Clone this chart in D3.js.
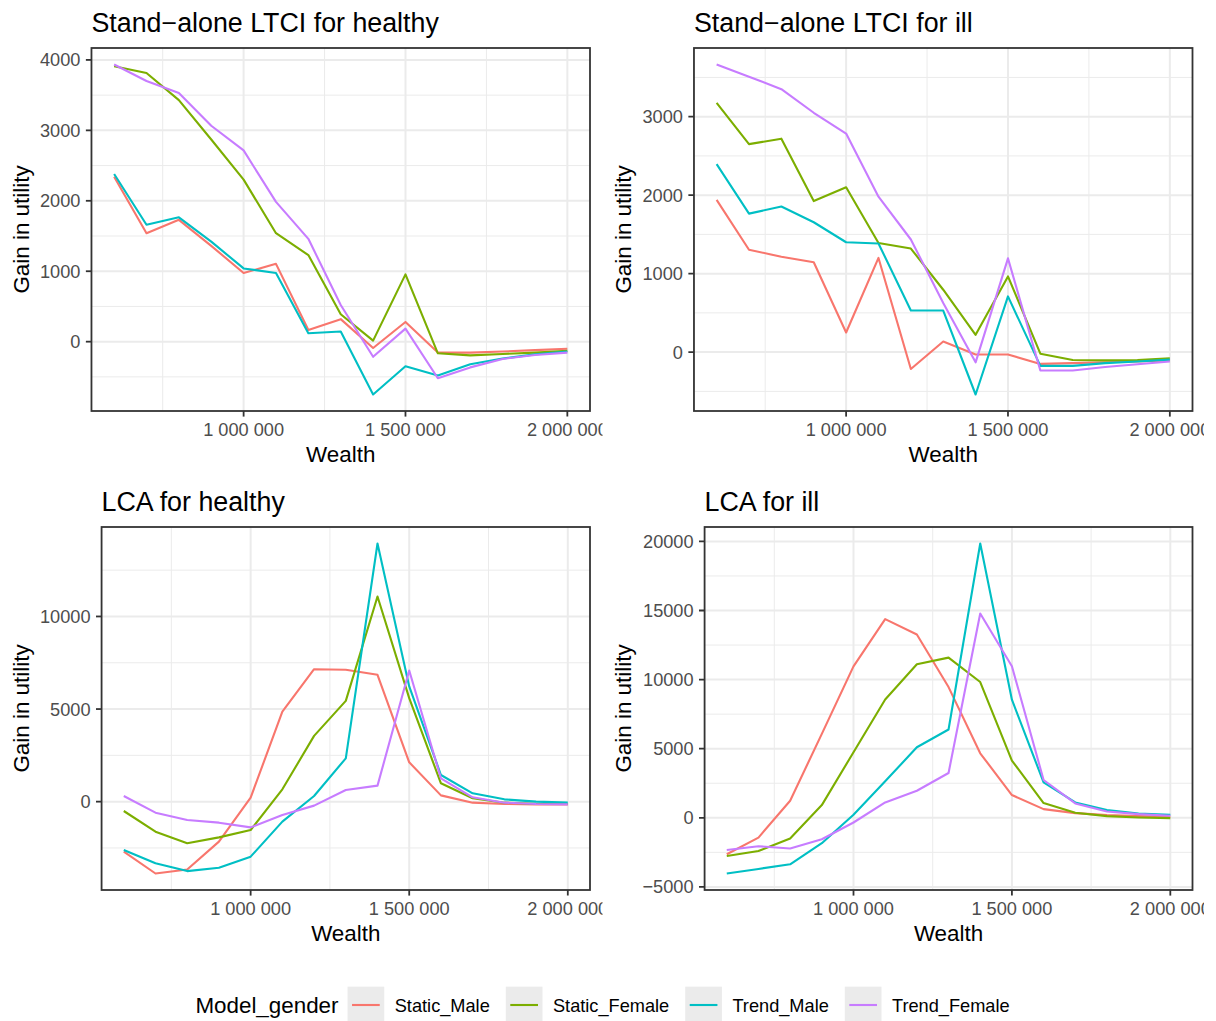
<!DOCTYPE html>
<meta charset="utf-8">
<script src="https://d3js.org/d3.v7.min.js"></script>
<style>
  body { margin: 0; background: #fff; }
  text { font-family: "Liberation Sans", Arial, Helvetica, sans-serif; }
</style>
<div id="chart"></div>
<script>
// x values (wealth) and series
const wealth = [600000, 700000, 800000, 900000, 1000000, 1100000, 1200000, 1300000,
                1400000, 1500000, 1600000, 1700000, 1800000, 1900000, 2000000];
const xTicks = [1000000, 1500000, 2000000];
const seriesNames = ["Static_Male", "Static_Female", "Trend_Male", "Trend_Female"];
const seriesColors = ["#F8766D", "#7CAE00", "#00BFC4", "#C77CFF"];
const panelTitles = ["Stand\u2212alone LTCI for healthy", "Stand\u2212alone LTCI for ill",
                     "LCA for healthy", "LCA for ill"];

// Stand-alone LTCI for healthy
const ltciHealthyStaticMale   = [2340, 1540, 1730, 1360, 975, 1105, 165, 320, -90, 280, -155, -155, -140, -120, -100];
const ltciHealthyStaticFemale = [3910, 3815, 3430, 2870, 2300, 1540, 1230, 390, 15, 955, -165, -195, -175, -155, -130];
const ltciHealthyTrendMale    = [2380, 1660, 1765, 1420, 1040, 975, 120, 145, -750, -350, -480, -320, -240, -180, -140];
const ltciHealthyTrendFemale  = [3935, 3700, 3530, 3065, 2715, 1985, 1460, 520, -215, 185, -520, -365, -245, -190, -155];
const ltciHealthyTicks = [0, 1000, 2000, 3000, 4000];

// Stand-alone LTCI for ill
const ltciIllStaticMale   = [1940, 1305, 1215, 1145, 250, 1200, -215, 135, -30, -30, -150, -140, -130, -120, -105];
const ltciIllStaticFemale = [3175, 2650, 2720, 1925, 2100, 1390, 1320, 795, 220, 965, -20, -100, -105, -100, -80];
const ltciIllTrendMale    = [2395, 1765, 1855, 1655, 1400, 1385, 530, 530, -540, 710, -175, -175, -140, -120, -95];
const ltciIllTrendFemale  = [3665, 3510, 3350, 3050, 2785, 1980, 1435, 625, -130, 1195, -235, -235, -190, -155, -120];
const ltciIllTicks = [0, 1000, 2000, 3000];

// LCA for healthy
const lcaHealthyStaticMale   = [-2700, -3880, -3660, -2160, 215, 4860, 7150, 7120, 6850, 2125, 340, -55, -125, -145, -145];
const lcaHealthyStaticFemale = [-505, -1620, -2250, -1930, -1530, 665, 3550, 5440, 11080, 5590, 990, 180, -55, -110, -125];
const lcaHealthyTrendMale    = [-2610, -3330, -3750, -3570, -2970, -1080, 305, 2340, 13940, 6220, 1440, 450, 125, 0, -55];
const lcaHealthyTrendFemale  = [305, -595, -990, -1135, -1390, -720, -215, 630, 865, 7080, 1260, 235, -55, -125, -145];
const lcaHealthyTicks = [0, 5000, 10000];

// LCA for ill
const lcaIllStaticMale   = [-2640, -1430, 1235, 6075, 10960, 14375, 13260, 9460, 4670, 1645, 630, 340, 195, 120, 75];
const lcaIllStaticFemale = [-2760, -2400, -1500, 920, 4745, 8565, 11110, 11590, 9825, 4140, 1065, 365, 120, 25, -25];
const lcaIllTrendMale    = [-4030, -3700, -3365, -1840, 220, 2640, 5105, 6390, 19850, 8545, 2565, 1115, 555, 315, 220];
const lcaIllTrendFemale  = [-2325, -2055, -2225, -1550, -340, 1115, 1960, 3245, 14785, 10965, 2735, 1040, 460, 265, 145];
const lcaIllTicks = [-5000, 0, 5000, 10000, 15000, 20000];

const panels = [
  {title: panelTitles[0], ticks: ltciHealthyTicks, series: [ltciHealthyStaticMale, ltciHealthyStaticFemale, ltciHealthyTrendMale, ltciHealthyTrendFemale]},
  {title: panelTitles[1], ticks: ltciIllTicks, series: [ltciIllStaticMale, ltciIllStaticFemale, ltciIllTrendMale, ltciIllTrendFemale]},
  {title: panelTitles[2], ticks: lcaHealthyTicks, series: [lcaHealthyStaticMale, lcaHealthyStaticFemale, lcaHealthyTrendMale, lcaHealthyTrendFemale]},
  {title: panelTitles[3], ticks: lcaIllTicks, series: [lcaIllStaticMale, lcaIllStaticFemale, lcaIllTrendMale, lcaIllTrendFemale]}
];

const W = 1216, H = 1021;
const cellW = 602.5, cellH = 479;
const tickFont = 18.2, axisFont = 22.4, titleFont = 26.8;
const tickLen = 5.6;

const svg = d3.select("#chart").append("svg")
  .attr("width", W).attr("height", H);

// x labels: space as thousands separator; y labels: plain, with a real minus sign
const fmtX = d => d3.format(",")(d).replace(/,/g, " ");
const fmtY = d => (d < 0 ? "\u2212" : "") + Math.abs(d);

function measure(str, size) {
  const t = svg.append("text").attr("font-size", size).text(str);
  const w = t.node().getComputedTextLength();
  t.remove();
  return w;
}

panels.forEach((p, i) => {
  const cx = (i % 2) * cellW, cy = Math.floor(i / 2) * cellH;
  const labW = d3.max(p.ticks, t => measure(fmtY(t), tickFont));
  const left = cx + 40 + labW + tickLen + 5.4;
  const right = cx + 590;
  const top = cy + 48, bottom = cy + 411;

  const clipId = "clip" + i;
  svg.append("clipPath").attr("id", clipId)
    .append("rect").attr("x", cx).attr("y", cy).attr("width", i % 2 ? W - cx - 12 : cellW).attr("height", cellH);
  const g = svg.append("g").attr("clip-path", `url(#${clipId})`);

  // scales with ggplot-like 5% expansion
  const xr = d3.extent(wealth), xpad = (xr[1] - xr[0]) * 0.05;
  const x = d3.scaleLinear().domain([xr[0] - xpad, xr[1] + xpad]).range([left, right]);
  const yr = d3.extent(p.series.flat()), ypad = (yr[1] - yr[0]) * 0.05;
  const y = d3.scaleLinear().domain([yr[0] - ypad, yr[1] + ypad]).range([bottom, top]);

  // minor grid
  const xStep = xTicks[1] - xTicks[0];
  const xMinor = [xTicks[0] - xStep / 2].concat(xTicks.map(t => t + xStep / 2))
    .filter(v => v > x.domain()[0] && v < x.domain()[1]);
  const yStep = p.ticks[1] - p.ticks[0];
  const yMinor = [p.ticks[0] - yStep / 2].concat(p.ticks.map(t => t + yStep / 2))
    .filter(v => v > y.domain()[0] && v < y.domain()[1]);

  g.append("rect").attr("x", left).attr("y", top).attr("width", right - left).attr("height", bottom - top)
    .attr("fill", "#fff");
  g.selectAll(".xmin").data(xMinor).enter().append("line")
    .attr("x1", d => x(d)).attr("x2", d => x(d)).attr("y1", top).attr("y2", bottom)
    .attr("stroke", "#ebebeb").attr("stroke-width", 1);
  g.selectAll(".ymin").data(yMinor).enter().append("line")
    .attr("x1", left).attr("x2", right).attr("y1", d => y(d)).attr("y2", d => y(d))
    .attr("stroke", "#ebebeb").attr("stroke-width", 1);
  g.selectAll(".xmaj").data(xTicks).enter().append("line")
    .attr("x1", d => x(d)).attr("x2", d => x(d)).attr("y1", top).attr("y2", bottom)
    .attr("stroke", "#ebebeb").attr("stroke-width", 2);
  g.selectAll(".ymaj").data(p.ticks).enter().append("line")
    .attr("x1", left).attr("x2", right).attr("y1", d => y(d)).attr("y2", d => y(d))
    .attr("stroke", "#ebebeb").attr("stroke-width", 2);

  // lines
  const line = d3.line().x((d, j) => x(wealth[j])).y(d => y(d));
  p.series.forEach((s, k) => {
    g.append("path").datum(s).attr("d", line)
      .attr("fill", "none").attr("stroke", seriesColors[k])
      .attr("stroke-width", 2.1).attr("stroke-linejoin", "round");
  });

  // border
  g.append("rect").attr("x", left).attr("y", top).attr("width", right - left).attr("height", bottom - top)
    .attr("fill", "none").attr("stroke", "#333333").attr("stroke-width", 1.8);

  // y axis ticks
  g.selectAll(".yt").data(p.ticks).enter().append("line")
    .attr("x1", left - tickLen).attr("x2", left).attr("y1", d => y(d)).attr("y2", d => y(d))
    .attr("stroke", "#333333").attr("stroke-width", 1.8);
  g.selectAll(".yl").data(p.ticks).enter().append("text")
    .attr("x", left - tickLen - 5.4).attr("y", d => y(d)).attr("dy", "0.36em")
    .attr("text-anchor", "end").attr("font-size", tickFont).attr("fill", "#4d4d4d")
    .text(fmtY);

  // x axis ticks
  g.selectAll(".xt").data(xTicks).enter().append("line")
    .attr("x1", d => x(d)).attr("x2", d => x(d)).attr("y1", bottom).attr("y2", bottom + tickLen)
    .attr("stroke", "#333333").attr("stroke-width", 1.8);
  g.selectAll(".xl").data(xTicks).enter().append("text")
    .attr("x", d => x(d)).attr("y", bottom + 25)
    .attr("text-anchor", "middle").attr("font-size", tickFont).attr("fill", "#4d4d4d")
    .text(fmtX);

  // axis titles
  g.append("text").attr("x", (left + right) / 2).attr("y", bottom + 51)
    .attr("text-anchor", "middle").attr("font-size", axisFont).attr("fill", "#000")
    .text("Wealth");
  g.append("text")
    .attr("transform", `translate(${cx + 28.5},${(top + bottom) / 2}) rotate(-90)`)
    .attr("text-anchor", "middle").attr("font-size", axisFont).attr("fill", "#000")
    .text("Gain in utility");

  // title
  g.append("text").attr("x", left).attr("y", top - 16.5)
    .attr("font-size", titleFont).attr("fill", "#000").text(p.title);
});

// legend at the bottom, centered
const legY = 1005, keySize = 36.7;
const titleW = measure("Model_gender", axisFont);
const labWs = seriesNames.map(n => measure(n, tickFont));
const totalW = titleW + 9 + d3.sum(labWs) + seriesNames.length * (keySize + 10.5) + (seriesNames.length - 1) * 16;
let lx = 602.5 - totalW / 2;
const leg = svg.append("g");
leg.append("text").attr("x", lx).attr("y", legY).attr("dy", "0.36em")
  .attr("font-size", axisFont).attr("fill", "#000").text("Model_gender");
lx += titleW + 9;
seriesNames.forEach((n, k) => {
  leg.append("rect").attr("x", lx).attr("y", legY - keySize / 2).attr("width", keySize).attr("height", keySize)
    .attr("fill", "#ebebeb");
  leg.append("line").attr("x1", lx + 4.5).attr("x2", lx + keySize - 4.5).attr("y1", legY).attr("y2", legY)
    .attr("stroke", seriesColors[k]).attr("stroke-width", 2.1);
  lx += keySize + 10.5;
  leg.append("text").attr("x", lx).attr("y", legY).attr("dy", "0.36em")
    .attr("font-size", tickFont).attr("fill", "#000").text(n);
  lx += labWs[k] + 16;
});
</script>
